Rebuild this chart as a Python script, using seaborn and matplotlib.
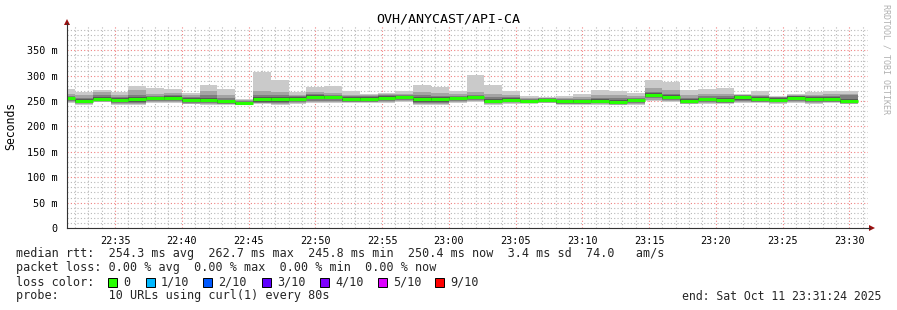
import numpy as np
import pandas as pd
import matplotlib
matplotlib.use("Agg")
import matplotlib.pyplot as plt
from matplotlib.patches import Polygon, Rectangle
import seaborn as sns

# ---------------- data ----------------
title = "OVH/ANYCAST/API-CA"
# time in minutes after 22:30; 80 s steps starting 22:30:40
bin_start_min = 40 / 60
bin_step_min = 80 / 60
view_start_min = 1 + 24 / 60      # 22:31:24
view_end_min = 61 + 24 / 60       # 23:31:24

median_ms = [256, 251, 255, 252, 254, 256, 257, 252, 253, 250, 246, 254, 254, 255, 259,
             258, 255, 255, 257, 258, 255, 255, 256, 258, 251, 253, 251, 253, 250, 250,
             251, 248, 252, 263, 259, 251, 254, 253, 258, 255, 253, 257, 255, 255, 250.4]
p10 = [273, 268, 271, 268, 279, 275, 273, 266, 281, 273, 254, 307, 291, 267, 277, 279, 270, 265,
       266, 269, 282, 277, 270, 302, 282, 269, 260, 258, 260, 265, 271, 269, 266, 291, 287, 271,
       273, 275, 264, 269, 261, 264, 268, 270, 269]
p9 = [265, 262, 268, 262, 272, 265, 266, 262, 270, 262, 252, 270, 268, 262, 268, 266, 263, 262,
      264, 265, 268, 266, 264, 268, 265, 262, 256, 257, 256, 258, 262, 262, 260, 275, 272, 262,
      264, 264, 263, 262, 259, 262, 262, 264, 264]
p8 = [261, 256, 262, 258, 262, 261, 262, 258, 262, 256, 250, 262, 262, 260, 264, 262, 260, 260,
      262, 262, 262, 261, 261, 263, 258, 258, 255, 256, 254, 255, 257, 256, 257, 268, 265, 257,
      260, 260, 262, 260, 258, 261, 260, 261, 262]
p7 = [259, 254, 259, 256, 258, 259, 260, 256, 257, 253, 248, 258, 258, 258, 262, 261, 258, 258,
      260, 261, 259, 258, 259, 261, 254, 256, 253, 255, 253, 253, 254, 252, 255, 266, 262, 254,
      257, 256, 260, 258, 256, 260, 258, 258, 255]
p6 = [257.5, 252.5, 256.5, 253.5, 256, 257.5, 258.5, 254, 254.5, 251.5, 247, 256, 256, 256.5, 260.5,
      259.5, 257, 256.5, 258.5, 259.5, 257, 257, 257.5, 259.5, 252.5, 254.5, 252.5, 254.5, 251.5, 251.5,
      252.5, 249.5, 253.5, 264.5, 260.5, 252.5, 255.5, 254.5, 259.5, 256.5, 254.5, 258.5, 256.5, 256.5, 252]
p5 = [254.5, 249.5, 253.5, 250.5, 252, 254.5, 255.5, 250, 251.5, 248.5, 245, 252, 252, 253.5, 257.5,
      256.5, 253, 253.5, 255.5, 256.5, 253, 253, 254.5, 256.5, 249.5, 251.5, 249.5, 251.5, 248.5, 248.5,
      249.5, 246.5, 250.5, 261.5, 257.5, 249.5, 252.5, 251.5, 256.5, 253.5, 251.5, 255.5, 253.5, 253.5, 249]
p4 = [253, 248, 252, 248, 249, 252, 253, 248, 248, 247, 244, 249, 249, 250, 254, 254, 251, 251,
      253, 254, 249, 249, 252, 254, 248, 250, 249, 250, 247, 247, 248, 245, 249, 259, 254, 248,
      250, 249, 253, 251, 250, 252, 250, 251, 247]
p3 = [251, 246, 250, 246, 247, 250, 251, 246, 246, 245, 243, 247, 247, 248, 251, 251, 249, 249,
      251, 252, 247, 247, 250, 252, 246, 248, 247, 248, 245, 245, 246, 244, 247, 256, 252, 246,
      248, 247, 250, 249, 248, 250, 248, 249, 246]
p2 = [249, 245, 249, 245, 245, 248, 249, 245, 245, 244, 243, 246, 245, 246, 249, 249, 248, 248,
      249, 250, 245, 245, 248, 250, 245, 247, 246, 247, 244, 244, 245, 243, 245, 253, 250, 245,
      247, 246, 248, 248, 247, 248, 247, 248, 245]
p1 = [247, 243, 248, 243, 243, 246, 247, 244, 243, 243, 242, 244, 243, 244, 246, 247, 246, 246,
      247, 248, 243, 243, 246, 248, 243, 245, 245, 246, 243, 243, 243, 242, 243, 250, 248, 244,
      245, 244, 246, 246, 245, 246, 245, 246, 244]

x_tick_min = [5, 10, 15, 20, 25, 30, 35, 40, 45, 50, 55, 60]
x_tick_labels = ["22:35", "22:40", "22:45", "22:50", "22:55", "23:00",
                 "23:05", "23:10", "23:15", "23:20", "23:25", "23:30"]
y_ticks = [0, 50, 100, 150, 200, 250, 300, 350]
y_tick_labels = ["0", "50 m", "100 m", "150 m", "200 m", "250 m", "300 m", "350 m"]

legend_line1 = "median rtt:  254.3 ms avg  262.7 ms max  245.8 ms min  250.4 ms now  3.4 ms sd  74.0   am/s"
legend_line2 = "packet loss: 0.00 % avg  0.00 % max  0.00 % min  0.00 % now"
legend_line3 = "loss color:"
legend_line4 = "probe:       10 URLs using curl(1) every 80s"
end_text = "end: Sat Oct 11 23:31:24 2025"
loss_labels = ["0", "1/10", "2/10", "3/10", "4/10", "5/10", "9/10"]
loss_colors = ["#26ff00", "#00b8ff", "#0059ff", "#5e00ff", "#7e00ff", "#dd00ff", "#ff0000"]
watermark = "RRDTOOL / TOBI OETIKER"

# ---------------- style ----------------
sns.set_theme(style="white")
MONO = "DejaVu Sans Mono"
plt.rcParams["font.family"] = [MONO, "DejaVu Sans"]

W, H = 897, 310
fig = plt.figure(figsize=(W / 100, H / 100), dpi=100)
fig.patch.set_facecolor("white")


def fx(px):
    return px / W


def fy(py):
    return 1 - py / H


L, R, T, B = 67, 868, 25, 228
ax = fig.add_axes([fx(L), fy(B), (R - L) / W, (B - T) / H])
ax.set_facecolor("white")

n = len(median_ms)
edges = bin_start_min + bin_step_min * np.arange(n + 1)


def ext(a):
    a = np.asarray(a, dtype=float)
    return np.append(a, a[-1])


bands = [(p1, p10, "#cacaca"), (p2, p9, "#a4a4a4"), (p3, p8, "#7e7e7e"),
         (p4, p7, "#585858"), (p5, p6, "#323232")]
for lo, hi, col in bands:
    ax.fill_between(edges, ext(lo), ext(hi), step="post", color=col, lw=0, zorder=3)

# median: a short horizontal segment per bin
rows = []
for i in range(n):
    rows.append({"t": edges[i], "rtt": median_ms[i], "bin": i})
    rows.append({"t": edges[i + 1], "rtt": median_ms[i], "bin": i})
df = pd.DataFrame(rows)
sns.lineplot(data=df, x="t", y="rtt", units="bin", estimator=None, color="#26ff00",
             lw=2.2, ax=ax, zorder=4, solid_capstyle="butt")

ax.set_xlim(view_start_min, view_end_min)
ax.set_ylim(0, 400)
ax.set_xlabel("")
ax.set_ylabel("")

ax.set_xticks(x_tick_min)
ax.set_xticklabels(x_tick_labels)
ax.set_xticks(np.arange(2, 62, 1), minor=True)
ax.set_yticks(y_ticks)
ax.set_yticklabels(y_tick_labels)
ax.set_yticks(np.arange(10, 400, 10), minor=True)

ax.grid(which="minor", color="#b8b8b8", linestyle=(0, (1, 2)), lw=0.8, zorder=1)
ax.grid(which="major", color="#f08080", linestyle=(0, (1, 2)), lw=0.8, zorder=2)
ax.set_axisbelow(True)

ax.tick_params(axis="both", which="major", length=2, width=0.7, color="black",
               labelsize=7.3, labelcolor="black")
ax.tick_params(axis="x", which="major", pad=3.5)
ax.tick_params(axis="y", which="major", pad=5)
ax.tick_params(which="minor", length=0)
for lab in ax.get_xticklabels() + ax.get_yticklabels():
    lab.set_fontfamily(MONO)

for s in ["top", "right"]:
    ax.spines[s].set_visible(False)
for s in ["left", "bottom"]:
    ax.spines[s].set_color("#333333")
    ax.spines[s].set_linewidth(0.8)
    ax.spines[s].set_zorder(5)

# extend axes to arrows and add arrow heads
fig.add_artist(plt.Line2D([fx(R), fx(870)], [fy(B), fy(B)], color="#333333", lw=0.8))
fig.add_artist(plt.Line2D([fx(L), fx(L)], [fy(T), fy(23)], color="#333333", lw=0.8))
arrow_col = "#9b1010"
fig.add_artist(Polygon([[fx(869), fy(225)], [fx(869), fy(231)], [fx(875), fy(228)]],
                       closed=True, color=arrow_col, lw=0))
fig.add_artist(Polygon([[fx(64), fy(25)], [fx(70), fy(25)], [fx(67), fy(19)]],
                       closed=True, color=arrow_col, lw=0))

# title and labels
fig.text(fx(448), fy(19), title, ha="center", va="center", fontsize=9.6,
         family=MONO, color="black")
fig.text(fx(11), fy(126), "Seconds", ha="center", va="center", rotation=90,
         fontsize=8.3, family=MONO, color="black")
fig.text(fx(886), fy(4), watermark, ha="center", va="top", rotation=270,
         fontsize=6, family=MONO, color="#b0b0b0")

# legend block
fs = 8.5
fig.text(fx(16), fy(254), legend_line1, ha="left", va="center", fontsize=fs, family=MONO)
fig.text(fx(16), fy(268), legend_line2, ha="left", va="center", fontsize=fs, family=MONO)
fig.text(fx(16), fy(282), legend_line3, ha="left", va="center", fontsize=fs, family=MONO)
fig.text(fx(16), fy(296), legend_line4, ha="left", va="center", fontsize=fs, family=MONO)
fig.text(fx(881), fy(296), end_text, ha="right", va="center", fontsize=8.3, family=MONO)

box_x = [108, 146, 203, 262, 320, 378, 435]
for bx, lab, col in zip(box_x, loss_labels, loss_colors):
    fig.add_artist(Rectangle((fx(bx), fy(286.5)), 9 / W, 9 / H, facecolor=col,
                             edgecolor="black", lw=0.7))
    fig.text(fx(bx + 15), fy(282), lab, ha="left", va="center", fontsize=fs, family=MONO)

fig.savefig("out.png", dpi=100, facecolor="white")
